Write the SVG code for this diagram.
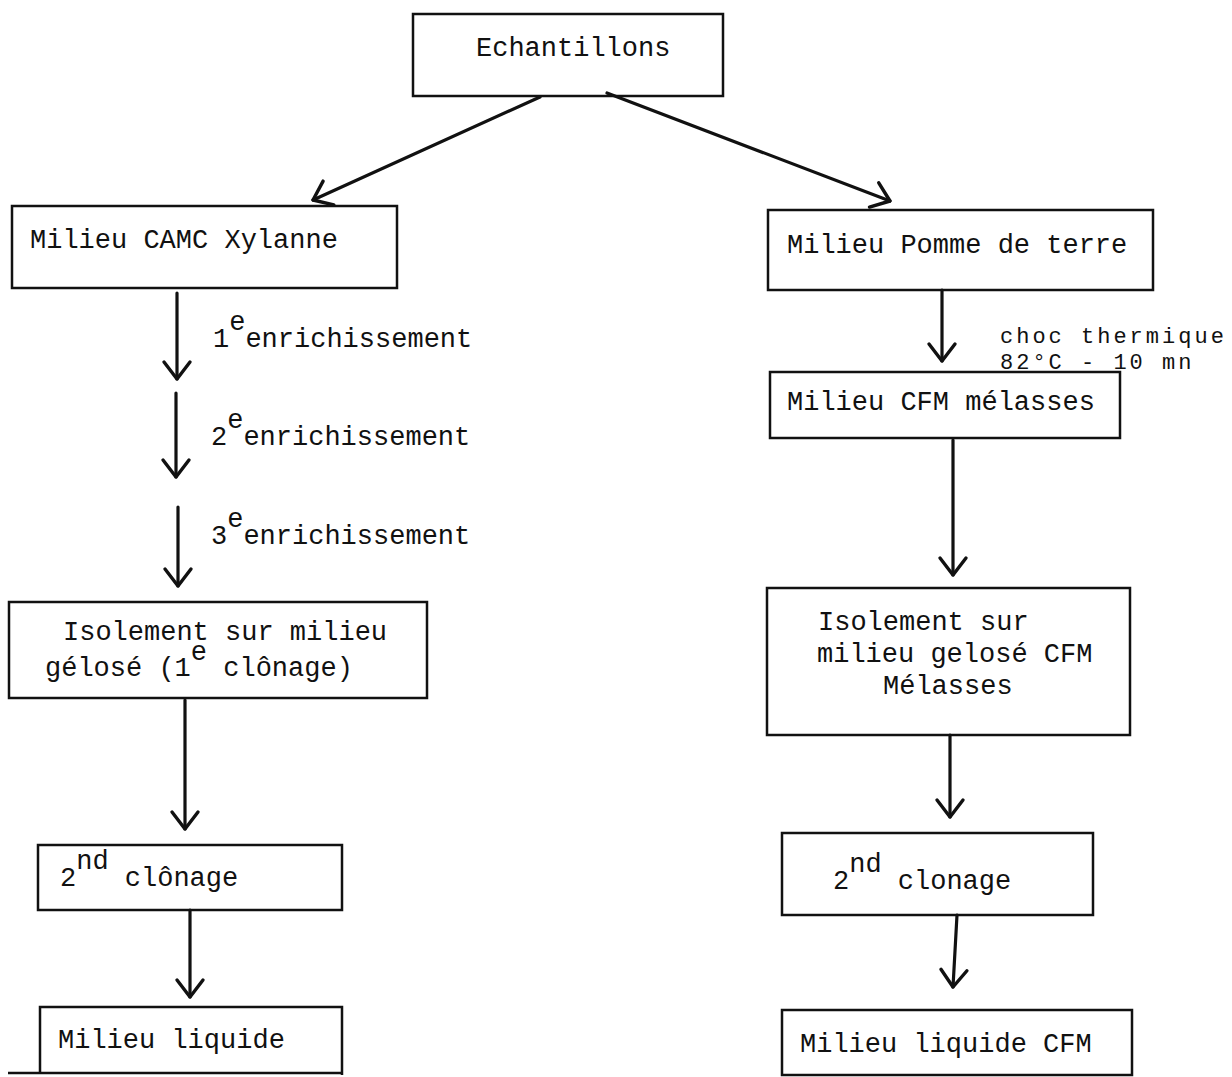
<svg xmlns="http://www.w3.org/2000/svg" width="1232" height="1077" viewBox="0 0 1232 1077">
<style>
.box{fill:none;stroke:#111;stroke-width:2.5}
.t{font-family:"Liberation Mono","DejaVu Sans Mono",monospace;font-size:27px;fill:#111}
.s{font-family:"Liberation Mono","DejaVu Sans Mono",monospace;font-size:22px;letter-spacing:3px;fill:#111}
.c{fill:none;stroke:#111;stroke-width:3.2;stroke-linecap:round}
</style>
<defs>
<marker id="v" markerUnits="userSpaceOnUse" markerWidth="40" markerHeight="40" viewBox="-20 -20 40 40" refX="0" refY="0" orient="auto">
<path d="M-17,-13 L0,0 L-17,13" fill="none" stroke="#111" stroke-width="3.4" stroke-linecap="round" stroke-linejoin="round"/>
</marker>
</defs>
<rect width="1232" height="1077" fill="#fff"/>
<g id="connectors">
<line class="c" x1="540" y1="97" x2="313" y2="200" marker-end="url(#v)"/>
<line class="c" x1="607" y1="93" x2="890" y2="201" marker-end="url(#v)"/>
<line class="c" x1="177" y1="293" x2="177" y2="379" marker-end="url(#v)"/>
<line class="c" x1="176" y1="393" x2="176" y2="477" marker-end="url(#v)"/>
<line class="c" x1="178" y1="507" x2="178" y2="586" marker-end="url(#v)"/>
<line class="c" x1="185" y1="700" x2="185" y2="829" marker-end="url(#v)"/>
<line class="c" x1="190" y1="910" x2="190" y2="997" marker-end="url(#v)"/>
<line class="c" x1="942" y1="290" x2="942" y2="361" marker-end="url(#v)"/>
<line class="c" x1="953" y1="440" x2="953" y2="575" marker-end="url(#v)"/>
<line class="c" x1="950" y1="735" x2="950" y2="817" marker-end="url(#v)"/>
<line class="c" x1="957" y1="915" x2="953" y2="987" marker-end="url(#v)"/>
</g>
<g id="n-echantillons">
<rect class="box" x="413" y="14" width="310" height="82"/>
<text class="t" x="476" y="56">Echantillons</text>
</g>
<g id="n-camc">
<rect class="box" x="12" y="206" width="385" height="82"/>
<text class="t" x="30" y="248">Milieu CAMC Xylanne</text>
</g>
<g id="l-enr1"><text class="t" x="213" y="347">1<tspan dy="-17">e</tspan><tspan dy="17">enrichissement</tspan></text></g>
<g id="l-enr2"><text class="t" x="211" y="445">2<tspan dy="-17">e</tspan><tspan dy="17">enrichissement</tspan></text></g>
<g id="l-enr3"><text class="t" x="211" y="544">3<tspan dy="-17">e</tspan><tspan dy="17">enrichissement</tspan></text></g>
<g id="n-isolement-l">
<rect class="box" x="9" y="602" width="418" height="96"/>
<text class="t" x="63" y="640">Isolement sur milieu</text>
<text class="t" x="45" y="676">gélosé (1<tspan dy="-16">e</tspan><tspan dy="16"> clônage)</tspan></text>
</g>
<g id="n-clonage2-l">
<rect class="box" x="38" y="845" width="304" height="65"/>
<text class="t" x="60" y="886">2<tspan dy="-17">nd</tspan><tspan dy="17"> clônage</tspan></text>
</g>
<g id="n-liquide-l">
<path class="box" d="M40,1073 V1007 H342 V1075 M8,1073 H342"/>
<text class="t" x="58" y="1048">Milieu liquide</text>
</g>
<g id="n-pomme">
<rect class="box" x="768" y="210" width="385" height="80"/>
<text class="t" x="787" y="253">Milieu Pomme de terre</text>
</g>
<g id="l-choc">
<text class="s" x="1000" y="343">choc thermique</text>
<text class="s" x="1000" y="369">82°C - 10 mn</text>
</g>
<g id="n-cfm">
<rect class="box" x="770" y="372" width="350" height="66"/>
<text class="t" x="787" y="410">Milieu CFM mélasses</text>
</g>
<g id="n-isolement-r">
<rect class="box" x="767" y="588" width="363" height="147"/>
<text class="t" x="818" y="630">Isolement sur</text>
<text class="t" x="817" y="662">milieu gelosé CFM</text>
<text class="t" x="883" y="694">Mélasses</text>
</g>
<g id="n-clonage2-r">
<rect class="box" x="782" y="833" width="311" height="82"/>
<text class="t" x="833" y="889">2<tspan dy="-17">nd</tspan><tspan dy="17"> clonage</tspan></text>
</g>
<g id="n-liquide-r">
<rect class="box" x="782" y="1010" width="350" height="65"/>
<text class="t" x="800" y="1052">Milieu liquide CFM</text>
</g>
</svg>
